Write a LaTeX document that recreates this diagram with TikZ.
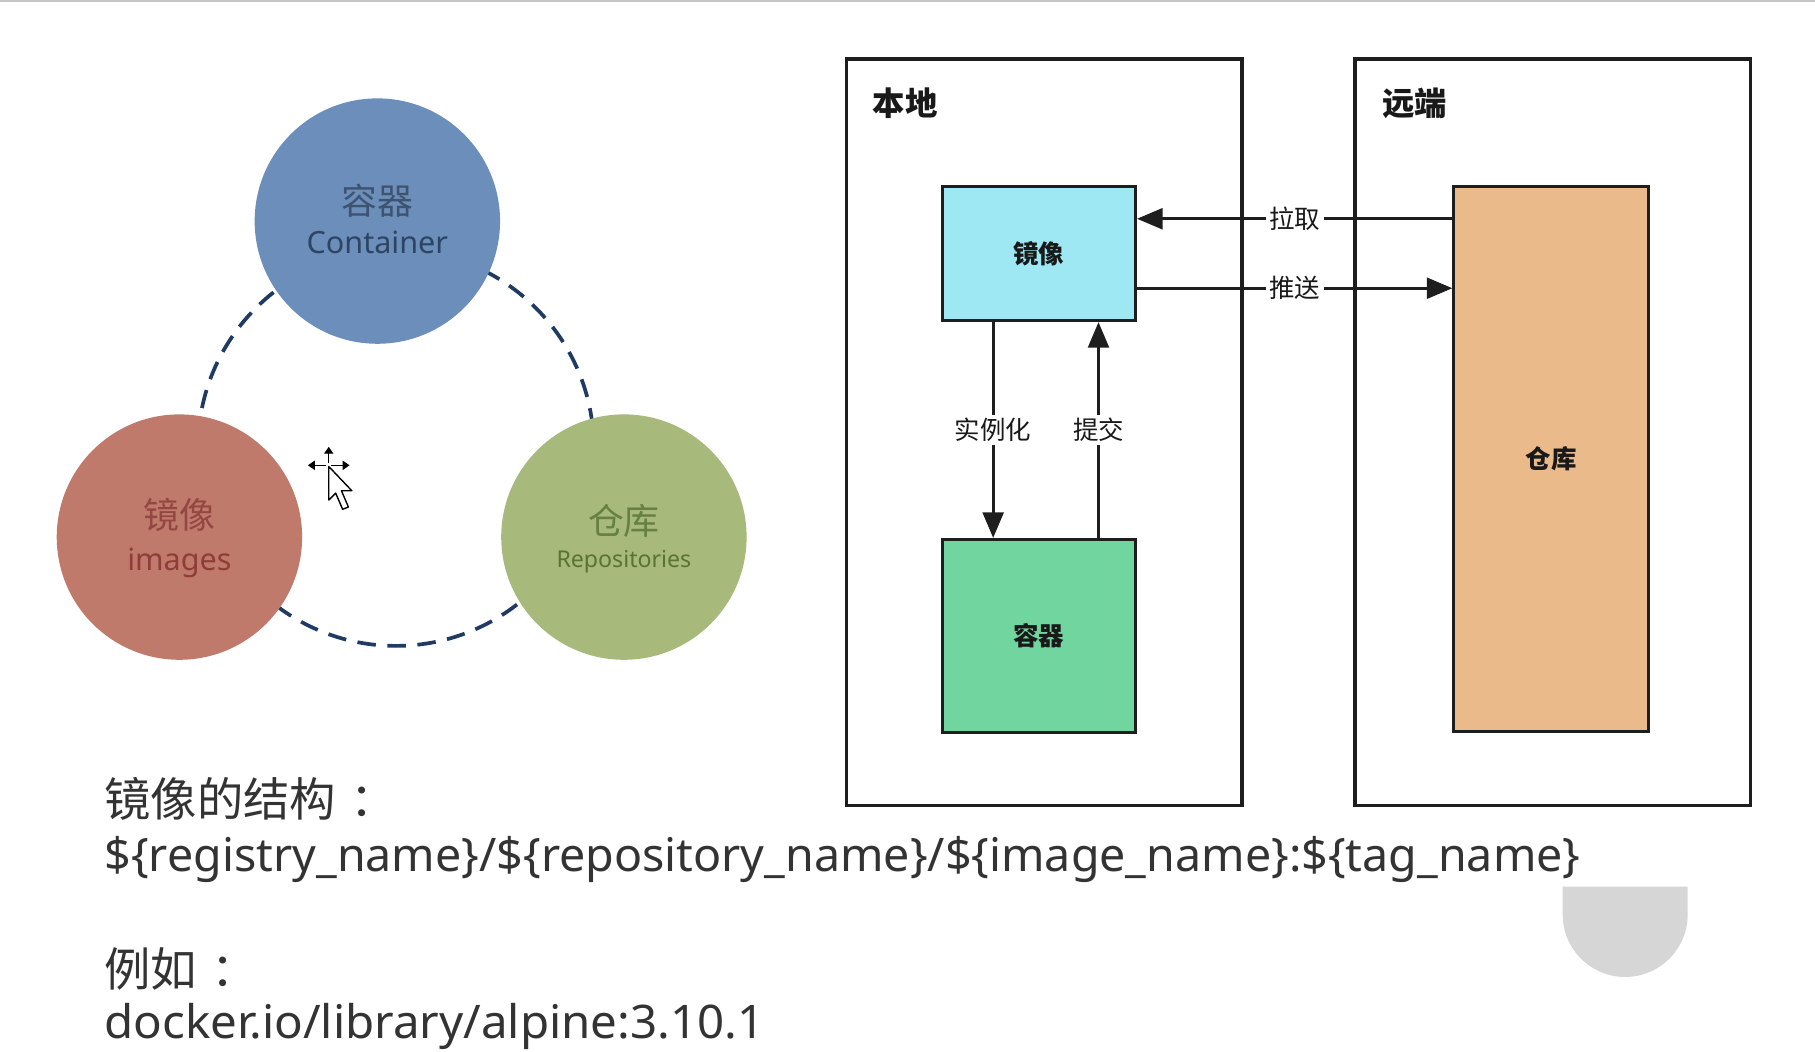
\documentclass[tikz,border=0pt]{standalone}
\usepackage{fontspec}
\usepackage{graphicx}
\setmainfont{Noto Sans}
\newfontfamily\cjk{Noto Sans CJK SC}
\newfontfamily\latn{Noto Sans}
\usetikzlibrary{arrows.meta,calc}
\definecolor{cblue}{HTML}{6B8EBA}
\definecolor{cred}{HTML}{C07A6C}
\definecolor{cgreen}{HTML}{A7B97B}
\definecolor{tblue}{HTML}{2D4463}
\definecolor{tred}{HTML}{8E3D38}
\definecolor{tgreen}{HTML}{587530}
\definecolor{dashcol}{HTML}{1F3B63}
\definecolor{boxcyan}{HTML}{9DE8F3}
\definecolor{boxgreen}{HTML}{70D59E}
\definecolor{boxorange}{HTML}{EBBA8A}
\definecolor{bodytext}{HTML}{333333}
\definecolor{lineblack}{HTML}{1E1E1E}
\begin{document}
\begin{tikzpicture}[x=0.5pt,y=-0.5pt,
  ball/.style={circle, minimum size=106pt, inner sep=0pt, draw=none},
  frame/.style={draw=lineblack, line width=1.4pt, minimum width=171pt, minimum height=322.5pt, inner sep=0pt},
  cell/.style={draw=lineblack, line width=1.3pt, inner sep=0pt, text=black!90, font=\cjk\bfseries\fontsize{11pt}{13pt}\selectfont},
  flow/.style={draw=lineblack, line width=1.15pt, -{Triangle[length=11pt,width=9pt]}},
  lab/.style={fill=white, inner sep=1.5pt, text=black!90, font=\cjk\fontsize{11pt}{13pt}\selectfont},
  ttl/.style={text=black!90, inner sep=0pt, font=\cjk\bfseries\fontsize{14pt}{16pt}\selectfont},
  zh/.style={anchor=base, inner sep=0pt, font=\cjk\fontsize{15.5pt}{17pt}\selectfont},
  en/.style={anchor=base, inner sep=0pt, font=\latn\fontsize{13.2pt}{15pt}\selectfont},
  body/.style={anchor=base west, inner sep=0pt, text=bodytext}]
\useasboundingbox (0,0) rectangle (1568,908);
\fill[white] (0,0) rectangle (1568,908);
\draw[gray!45, line width=1pt] (0,1) -- (1568,1);

% ---- left: three circles ----
\draw[dashcol, line width=1.6pt, dash pattern=on 8pt off 5pt] (342,387) circle[radius=171];
\node[ball, fill=cblue] (container) at (326,191) {};
\node[ball, fill=cred] (images) at (155,464) {};
\node[ball, fill=cgreen] (repos) at (539,464) {};
\node[zh, text=tblue!92!white] (containerzh) at (326,185) {容器};
\node[en, text=tblue] (containeren) at (326,219) {Container};
\node[zh, text=tred!95!white] (imageszh) at (155,457) {镜像};
\node[en, text=tred] (imagesen) at (155,493) {images};
\node[zh, text=tgreen!92!white] (reposzh) at (539,462) {仓库};
\node[en, text=tgreen, font=\latn\fontsize{10pt}{12pt}\selectfont] (reposen) at (539,490) {Repositories};

% cursor
\begin{scope}[line width=0.6pt]
  \draw[-{Triangle[length=3pt,width=4pt]}] (284,400) -- (284,386);
  \draw[-{Triangle[length=3pt,width=4pt]}] (282,402) -- (266,402);
  \draw[-{Triangle[length=3pt,width=4pt]}] (286,402) -- (302,402);
  \draw[fill=white, line join=round] (284,403) -- (284,432) -- (290,426) -- (296,440) -- (301,438) -- (295,424) -- (304,424) -- cycle;
\end{scope}

% ---- right: local / remote ----
\node[frame] (local) at (902,373.5) {};
\node[frame] (remote) at (1341.5,373.5) {};
\node[ttl] (localtitle) at (782,89) {本地};
\node[ttl] (remotetitle) at (1222,89) {远端};

\node[cell, fill=boxcyan, minimum width=83.5pt, minimum height=58pt] (img) at (897.5,219) {镜像};
\node[cell, fill=boxgreen, minimum width=83.5pt, minimum height=83.5pt] (ctr) at (897.5,549.5) {容器};
\node[cell, fill=boxorange, minimum width=84pt, minimum height=235.5pt] (repo) at (1340,396.5) {仓库};

\coordinate (ypull) at (0,189);
\coordinate (ypush) at (0,249);
\coordinate (xinst) at (858,0);
\coordinate (xcommit) at (949,0);

\draw[flow] (repo.west |- ypull) -- node[lab] {拉取} (img.east |- ypull);
\draw[flow] (img.east |- ypush) -- node[lab] {推送} (repo.west |- ypush);
\draw[flow] (xinst |- img.south) -- node[lab] {实例化} (xinst |- ctr.north);
\draw[flow] (xcommit |- ctr.north) -- node[lab] {提交} (xcommit |- img.south);

% ---- bottom text ----
\node[body, font=\cjk\fontsize{20pt}{24pt}\selectfont] (struct) at (90,705) {镜像的结构\kern6pt：};
\node[body, font=\latn\fontsize{20pt}{24pt}\selectfont] (pattern) at (90,753)
  {\resizebox{637.5pt}{\height}{\$\{registry\_name\}/\$\{repository\_name\}/\$\{image\_name\}:\$\{tag\_name\}}};
\node[body, font=\cjk\fontsize{20pt}{24pt}\selectfont] (example) at (90,852) {例如\kern6pt：};
\node[body, font=\latn\fontsize{20pt}{24pt}\selectfont] (sample) at (90,897)
  {\resizebox{285pt}{\height}{docker.io/library/alpine:3.10.1}};

% gray shape
\fill[gray!32] (1350,766) -- (1458,766) -- (1458,790) arc[start angle=0, end angle=180, radius=54] -- cycle;
\end{tikzpicture}
\end{document}
